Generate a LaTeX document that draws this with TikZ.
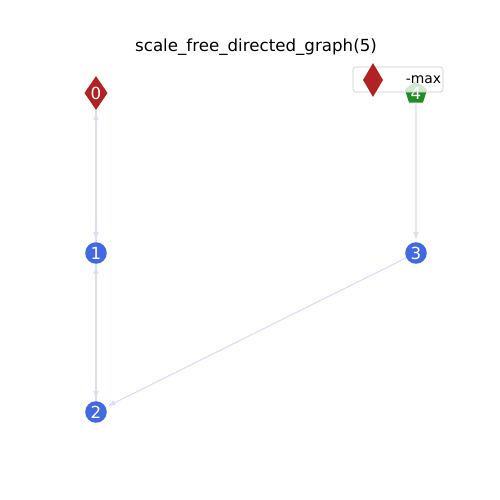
\documentclass[tikz,border=0pt]{standalone}
\usepackage{fontspec}
\setmainfont{DejaVu Sans}
\usetikzlibrary{shapes.geometric,arrows.meta}
\definecolor{royalblue}{HTML}{4169E1}
\definecolor{firebrick}{HTML}{B22222}
\definecolor{forestgreen}{HTML}{228B22}
\definecolor{edgelav}{HTML}{D8DDF8}
\begin{document}
\begin{tikzpicture}[x=0.72pt,y=-0.72pt,
    vert/.style={circle,fill=royalblue,text=white,inner sep=0pt,minimum size=15.5pt,
      font=\fontsize{12}{12}\selectfont},
    maxvert/.style={diamond,fill=firebrick,text=white,inner sep=0pt,minimum width=14.5pt,
      minimum height=24.5pt,font=\fontsize{12}{12}\selectfont},
    minvert/.style={regular polygon,regular polygon sides=5,fill=forestgreen,text=white,
      inner sep=0pt,minimum size=17pt,font=\fontsize{12}{12}\selectfont},
    edge/.style={draw=edgelav,line width=0.8pt,-{Latex[length=5.5pt,width=4pt]},shorten >=1.5pt}]
    \useasboundingbox (0,0) rectangle (500,500);
    \node[font=\fontsize{12}{12}\selectfont] (title) at (256,47) {scale\_free\_directed\_graph(5)};
    % vertices
    \node[maxvert] (n0) at (96,93) {0};
    \node[minvert] (n4) at (416,93) {4};
    \node[vert] (n1) at (96,253) {1};
    \node[vert] (n3) at (416,253) {3};
    \node[vert] (n2) at (96,412) {2};
    % edges
    \draw[edge] (n0) -- (n1);
    \draw[edge] (n1) -- (n0);
    \draw[edge] (n1) -- (n2);
    \draw[edge] (n2) -- (n1);
    \draw[edge] (n4) -- (n3);
    \draw[edge] (n3) -- (n2);
    % legend
    \draw[draw=black!20,fill=white,fill opacity=0.8,rounded corners=2pt] (353,67) rectangle (443,92);
    \node[maxvert] (legmark) at (373,80) {};
    \node[font=\fontsize{10}{10}\selectfont,anchor=west] (legtext) at (401,80) {-max};
\end{tikzpicture}
\end{document}
